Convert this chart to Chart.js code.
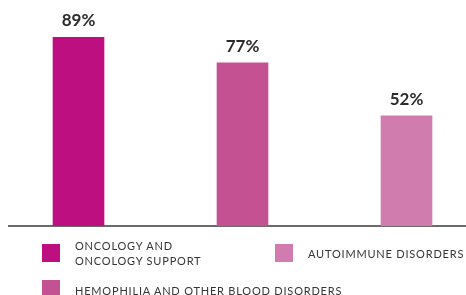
<!DOCTYPE html>
<html>
<head>
<meta charset="utf-8">
<script src="https://cdn.jsdelivr.net/npm/chart.js@4"></script>
<style>
    body { margin: 0; background: #fff; }
    #wrap { position: relative; width: 466px; height: 295px; overflow: hidden; }
    #chart-box { position: absolute; left: 0; top: 0; width: 466px; height: 295px; }
    .lg-box { position: absolute; width: 18px; height: 18px; }
    .lg-text {
        position: absolute; white-space: nowrap;
        font-family: Lato, sans-serif; font-size: 11px; line-height: 14.5px;
        color: #363636; letter-spacing: 0.8px;
    }
</style>
</head>
<body>
<div id="wrap">
    <div id="chart-box"><canvas id="barChart"></canvas></div>
    <div id="legend"></div>
</div>
<script>
// --- DONNEES ---
const categories = ['ONCOLOGY AND\nONCOLOGY SUPPORT', 'HEMOPHILIA AND OTHER BLOOD DISORDERS', 'AUTOIMMUNE DISORDERS'];
const values = [89, 77, 52];
const barColors = ['#bd0f7f', '#c45292', '#d07cae'];
const positions = [0, 1, 2];

// position of each legend entry (col / row), order of the picture
const legendSlots = [
    { left: 42, top: 244, textTop: 239 },
    { left: 42, top: 280, textTop: 284 },
    { left: 275, top: 244, textTop: 247 }
];

// --- ETIQUETTES AU-DESSUS DES BARRES ---
const valueLabels = {
    id: 'valueLabels',
    afterDatasetsDraw(chart) {
        const ctx = chart.ctx;
        const meta = chart.getDatasetMeta(0);
        ctx.save();
        ctx.font = 'bold 17px Lato, sans-serif';
        ctx.fillStyle = '#2b2b2b';
        ctx.textAlign = 'center';
        ctx.textBaseline = 'alphabetic';
        meta.data.forEach((bar, i) => {
            ctx.fillText(values[i] + '%', bar.x, bar.y - 11);
        });
        ctx.restore();
    }
};

const ctx = document.getElementById('barChart').getContext('2d');
new Chart(ctx, {
    type: 'bar',
    data: {
        datasets: [{
            data: positions.map((p, i) => ({ x: p, y: values[i] })),
            backgroundColor: barColors,
            borderWidth: 0,
            barThickness: 51
        }]
    },
    options: {
        responsive: true, maintainAspectRatio: false, animation: false,
        layout: { padding: { top: 14, left: 9, right: 0, bottom: 69 } },
        plugins: { legend: { display: false }, tooltip: { enabled: false } },
        scales: {
            x: {
                type: 'linear', min: -0.4238, max: 2.3628, offset: false,
                ticks: { display: false },
                grid: { display: false, drawTicks: false, offset: false },
                border: { display: true, color: '#6b6b6b', width: 2 }
            },
            y: { display: false, min: 0, max: 100 }
        }
    },
    plugins: [valueLabels]
});

// --- LEGENDE HTML ---
const legend = document.getElementById('legend');
categories.forEach((cat, i) => {
    const slot = legendSlots[i];
    const box = document.createElement('div');
    box.className = 'lg-box';
    box.style.left = slot.left + 'px';
    box.style.top = slot.top + 'px';
    box.style.background = barColors[i];
    const txt = document.createElement('div');
    txt.className = 'lg-text';
    txt.style.left = (slot.left + 33) + 'px';
    txt.style.top = slot.textTop + 'px';
    txt.innerHTML = cat.replace('\n', '<br>');
    legend.appendChild(box);
    legend.appendChild(txt);
});
</script>
</body>
</html>
